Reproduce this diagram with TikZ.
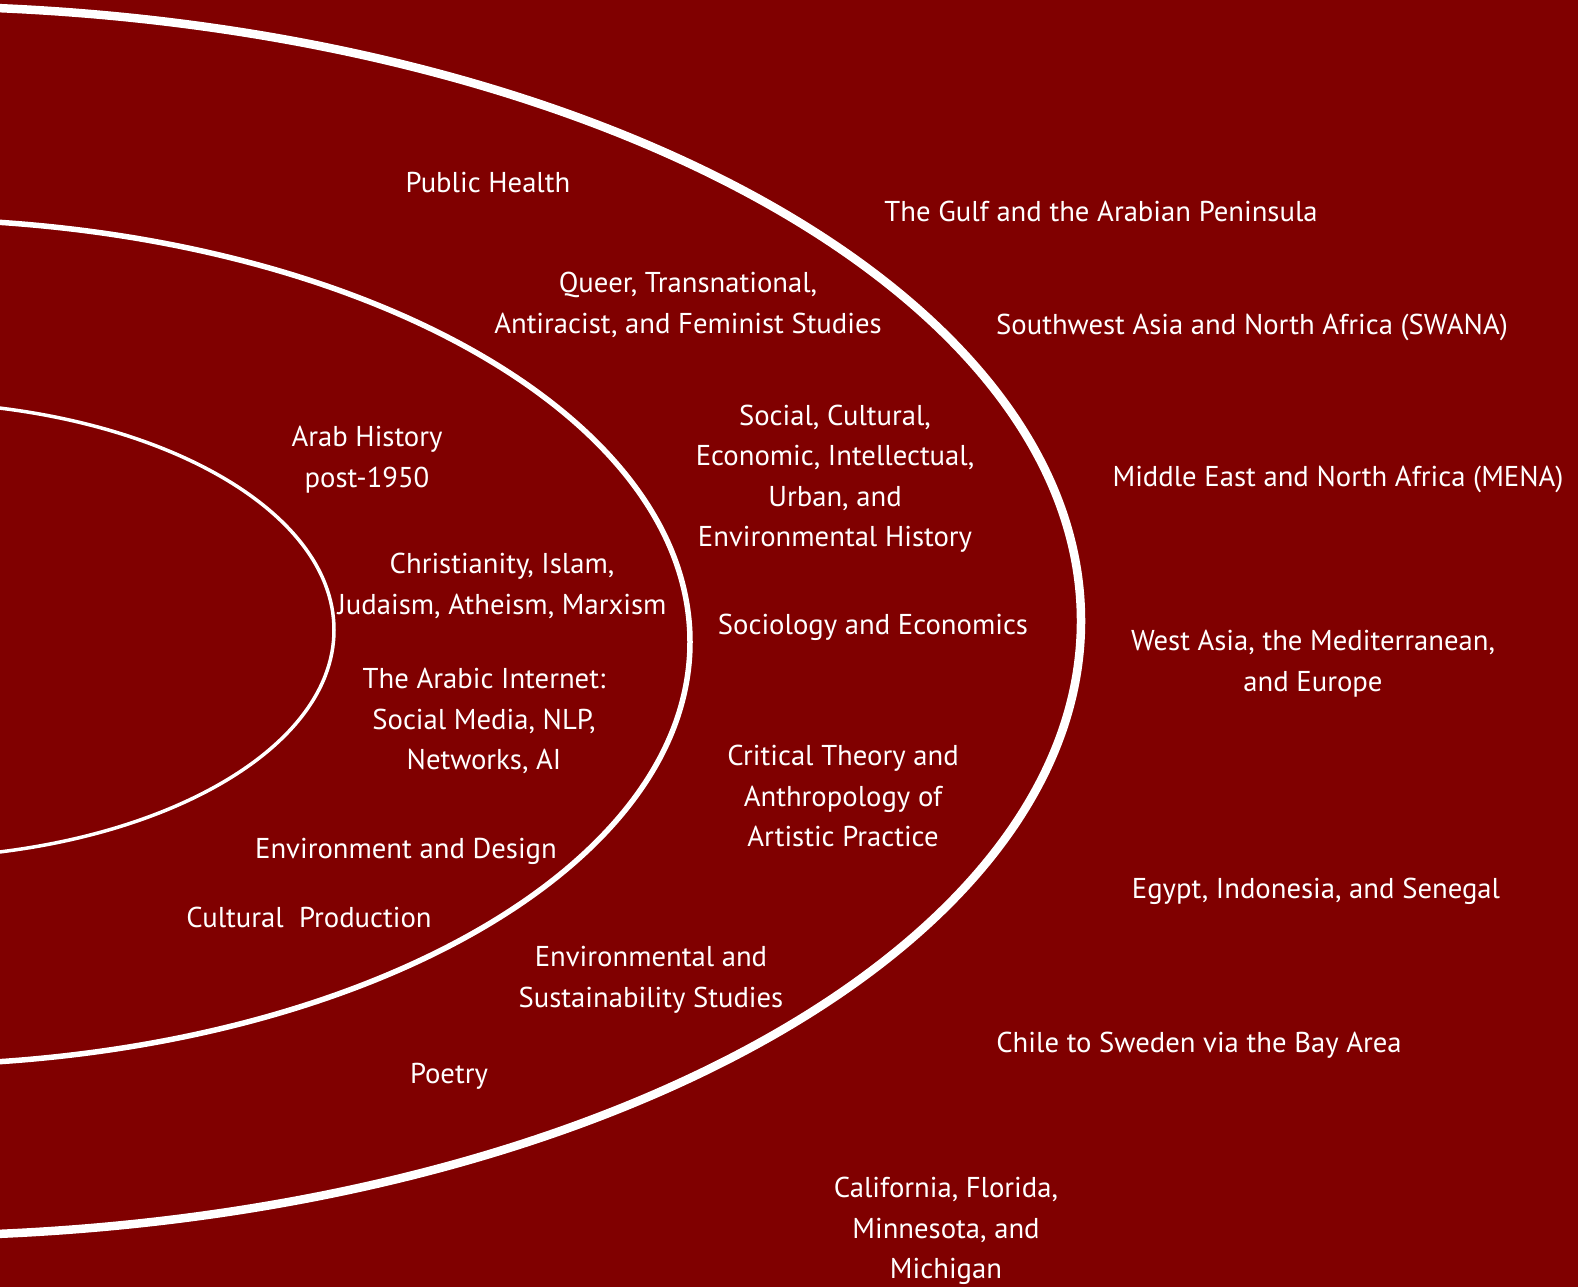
\documentclass[tikz,border=0pt]{standalone}
\usepackage{fontspec}
\setmainfont{PT Sans}
\definecolor{bg}{HTML}{800000}
\begin{document}
\begin{tikzpicture}[x=1pt,y=-1pt,
  lbl/.style={text=white, align=center, inner sep=0pt, font=\fontsize{28.7}{40.3}\selectfont},
  ring/.style={draw=white}]
\fill[bg] (0,0) rectangle (1578,1287);
\useasboundingbox (0,0) rectangle (1578,1287);
\begin{scope}
\clip (0,0) rectangle (1578,1287);
\draw[ring, line width=3.5pt] (-100,630) ellipse [x radius=434pt, y radius=228pt];
\draw[ring, line width=5.5pt] (-100,642) ellipse [x radius=790pt, y radius=423pt];
\draw[ring, line width=8.5pt] (-100,621) ellipse [x radius=1181pt, y radius=615pt];
\end{scope}
\node[lbl] (ph) at (488,184) {\strut Public Health};
\node[lbl] (gulf) at (1101,213) {\strut The Gulf and the Arabian Peninsula};
\node[lbl] (queer) at (688,305) {\strut Queer, Transnational,\\\strut Antiracist, and Feminist Studies};
\node[lbl] (swana) at (1252,326) {\strut Southwest Asia and North Africa (SWANA)};
\node[lbl] (arab) at (367,459) {\strut Arab History\\\strut post-1950};
\node[lbl] (social) at (835,478) {\strut Social, Cultural,\\\strut Economic, Intellectual,\\\strut Urban, and\\\strut Environmental History};
\node[lbl] (mena) at (1338,478) {\strut Middle East and North Africa (MENA)};
\node[lbl] (relig) at (502,586) {\strut Christianity, Islam,\\\strut Judaism, Atheism, Marxism};
\node[lbl] (socio) at (873,626) {\strut Sociology and Economics};
\node[lbl] (west) at (1313,663) {\strut West Asia, the Mediterranean,\\\strut and Europe};
\node[lbl] (inet) at (484,721) {\strut The Arabic Internet:\\\strut Social Media, NLP,\\\strut Networks, AI};
\node[lbl] (crit) at (843,798) {\strut Critical Theory and\\\strut Anthropology of\\\strut Artistic Practice};
\node[lbl] (envd) at (406,850) {\strut Environment and Design};
\node[lbl] (egypt) at (1316,890) {\strut Egypt, Indonesia, and Senegal};
\node[lbl] (cult) at (309,919) {\strut Cultural\ \ Production};
\node[lbl] (envs) at (651,979) {\strut Environmental and\\\strut Sustainability Studies};
\node[lbl] (chile) at (1199,1044) {\strut Chile to Sweden via the Bay Area};
\node[lbl] (poetry) at (449,1075) {\strut Poetry};
\node[lbl] (calif) at (946,1230) {\strut California, Florida,\\\strut Minnesota, and\\\strut Michigan};
\end{tikzpicture}
\end{document}
